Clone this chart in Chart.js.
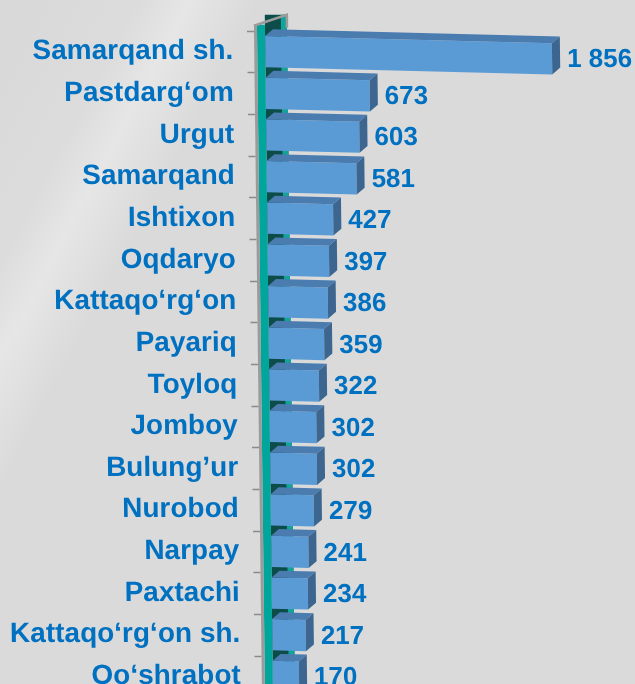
<!DOCTYPE html>
<html lang="uz">
<head>
<meta charset="utf-8">
<title>Tumanlar</title>
<script src="https://cdn.jsdelivr.net/npm/chart.js@4.4.1/dist/chart.umd.min.js"></script>
<style>
    html, body { margin: 0; padding: 0; }
    body {
        width: 635px;
        height: 684px;
        overflow: hidden;
        background: linear-gradient(118deg, #d8d8d8 0%, #dcdcdc 14%, #e6e6e6 19%, #dadada 26%, #dadada 100%);
    }
    #wrap { position: relative; width: 635px; height: 684px; overflow: hidden; }
    /* el lienzo se desplaza hacia arriba: el eje Y reserva espacio por su padding */
    #box { position: absolute; left: 0; top: -18px; width: 635px; height: 764px; }
</style>
</head>
<body>
<div id="wrap"><div id="box"><canvas id="chart"></canvas></div></div>
<script>
// Datos del gráfico
const distritos = [
    'Samarqand sh.', 'Pastdarg‘om', 'Urgut', 'Samarqand', 'Ishtixon', 'Oqdaryo',
    'Kattaqo‘rg‘on', 'Payariq', 'Toyloq', 'Jomboy', 'Bulung’ur', 'Nurobod',
    'Narpay', 'Paxtachi', 'Kattaqo‘rg‘on sh.', 'Qo‘shrabot'
];
const valores = [1856, 673, 603, 581, 427, 397, 386, 359, 322, 302, 302, 279, 241, 234, 217, 170];

const AZUL_TEXTO = '#0070c0';
const FUENTE = '"Liberation Sans", Arial, sans-serif';
const PROF_X = 8;       // profundidad lateral de las barras
const PROF_Y = 7;       // profundidad superior de las barras
const INCL_X = 0.012;   // inclinación de la pared (perspectiva)
const INCL_Y = 0.025;   // caída de las barras largas hacia la derecha

// Formatear número con espacio como separador de miles
const formatValue = v => String(v).replace(/\B(?=(\d{3})+(?!\d))/g, ' ');

// Pared izquierda, caras 3D y etiquetas de valor
const pared3d = {
    id: 'pared3d',
    beforeDraw(chart) {
        // toda la figura se inclina un poco hacia la derecha al bajar
        const y0 = chart.chartArea.top;
        chart.ctx.save();
        chart.ctx.transform(1, 0, INCL_X, 1, -INCL_X * y0, 0);
    },
    afterDraw(chart) {
        chart.ctx.restore();
    },
    beforeDatasetsDraw(chart) {
        const ctx = chart.ctx;
        const area = chart.chartArea;
        const left = area.left;
        const top = area.top - 6;
        const bottom = chart.height;
        ctx.save();

        // panel trasero (sombra)
        ctx.fillStyle = '#0c4d4a';
        ctx.fillRect(left, top - 10, 22, bottom);
        ctx.fillStyle = '#12a39b';
        ctx.fillRect(left + 16, top - 10, 6, bottom);

        // cara frontal de la pared
        ctx.fillStyle = '#00a59c';
        ctx.fillRect(left - 8, top, 8, bottom);
        ctx.fillStyle = '#9b9b9b';
        ctx.fillRect(left - 11, top, 3, bottom);

        // borde superior
        ctx.strokeStyle = '#9b9b9b';
        ctx.lineWidth = 2.5;
        ctx.beginPath();
        ctx.moveTo(left - 11, top + 1);
        ctx.lineTo(left + 22, top - 10);
        ctx.lineTo(left + 22, top + 3);
        ctx.stroke();

        // marcas entre categorías
        const n = distritos.length;
        const paso = area.height / n;
        ctx.strokeStyle = '#8a8a8a';
        ctx.lineWidth = 1.5;
        for (let i = 0; i <= n; i++) {
            const y = Math.round(area.top + i * paso) + 0.5;
            ctx.beginPath();
            ctx.moveTo(left - 18, y);
            ctx.lineTo(left - 11, y);
            ctx.stroke();
        }
        ctx.restore();

        // las barras caen ligeramente hacia la derecha
        ctx.save();
        ctx.transform(1, INCL_Y, 0, 1, 0, -INCL_Y * left);
    },
    afterDatasetsDraw(chart) {
        const ctx = chart.ctx;
        const meta = chart.getDatasetMeta(0);
        meta.data.forEach(bar => {
            const h = bar.height;
            const top = bar.y - h / 2;

            // cara superior
            ctx.fillStyle = '#4a7cb0';
            ctx.beginPath();
            ctx.moveTo(bar.base, top);
            ctx.lineTo(bar.x, top);
            ctx.lineTo(bar.x + PROF_X, top - PROF_Y);
            ctx.lineTo(bar.base + PROF_X, top - PROF_Y);
            ctx.closePath();
            ctx.fill();

            // cara lateral
            ctx.fillStyle = '#3c6690';
            ctx.beginPath();
            ctx.moveTo(bar.x, top);
            ctx.lineTo(bar.x + PROF_X, top - PROF_Y);
            ctx.lineTo(bar.x + PROF_X, top - PROF_Y + h);
            ctx.lineTo(bar.x, top + h);
            ctx.closePath();
            ctx.fill();
        });
        ctx.restore();

        // etiquetas de valor (sin la caída, solo desplazadas)
        const left = chart.chartArea.left;
        ctx.save();
        ctx.fillStyle = AZUL_TEXTO;
        ctx.font = 'bold 26px ' + FUENTE;
        ctx.textAlign = 'left';
        ctx.textBaseline = 'middle';
        meta.data.forEach((bar, i) => {
            const caida = INCL_Y * (bar.x - left);
            ctx.fillText(formatValue(valores[i]), bar.x + PROF_X + 7, bar.y + 1 + caida);
        });
        ctx.restore();
    }
};

new Chart(document.getElementById('chart'), {
    type: 'bar',
    data: {
        labels: distritos,
        datasets: [{
            data: valores,
            backgroundColor: '#5b9bd5',
            borderWidth: 0,
            barPercentage: 0.75,
            categoryPercentage: 1
        }]
    },
    options: {
        indexAxis: 'y',
        responsive: true,
        maintainAspectRatio: false,
        animation: false,
        layout: { padding: { top: 0, bottom: 0, left: 0, right: 61 } },
        scales: {
            x: {
                display: false,
                min: 0,
                max: 2000
            },
            y: {
                afterFit: scale => { scale.width = 265; },
                grid: { display: false, drawTicks: false },
                border: { display: false },
                ticks: {
                    color: AZUL_TEXTO,
                    padding: 32,
                    font: { family: FUENTE, size: 28, weight: 'bold' }
                }
            }
        },
        plugins: {
            legend: { display: false },
            tooltip: { enabled: false }
        }
    },
    plugins: [pared3d]
});
</script>
</body>
</html>
